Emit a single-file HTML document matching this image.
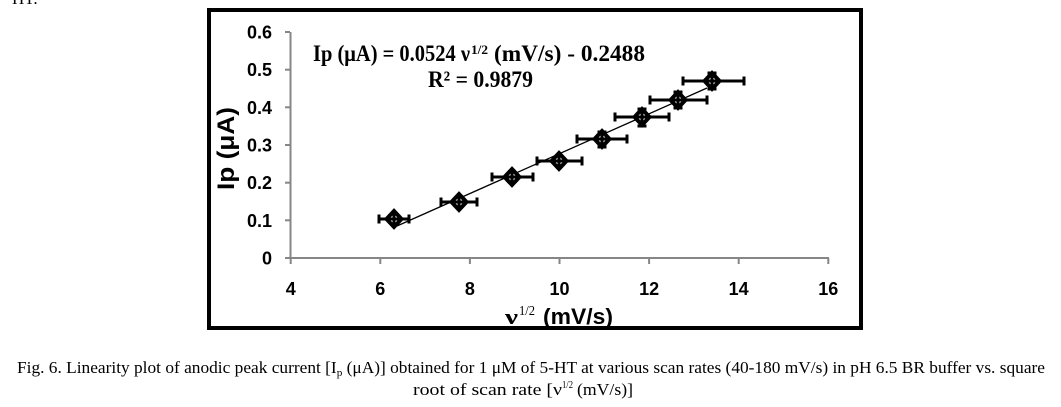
<!DOCTYPE html>
<html>
<head>
<meta charset="utf-8">
<style>
html,body{margin:0;padding:0;background:#fff;}
svg{display:block;}
</style>
</head>
<body>
<svg width="1061" height="407" viewBox="0 0 1061 407" xmlns="http://www.w3.org/2000/svg">
  <rect x="0" y="0" width="1061" height="407" fill="#fff"/>
  <text x="12" y="4" font-family="Liberation Serif, serif" font-size="17" fill="#000">HT.</text>

  <rect x="209" y="10" width="652" height="318" fill="none" stroke="#000" stroke-width="4"/>

  <g stroke="#868686" stroke-width="2" fill="none">
    <line x1="290.5" y1="32" x2="290.5" y2="258.5"/>
    <line x1="290" y1="258" x2="829" y2="258"/>
    <line x1="285" y1="32" x2="290" y2="32"/>
    <line x1="285" y1="69.7" x2="290" y2="69.7"/>
    <line x1="285" y1="107.3" x2="290" y2="107.3"/>
    <line x1="285" y1="145" x2="290" y2="145"/>
    <line x1="285" y1="182.7" x2="290" y2="182.7"/>
    <line x1="285" y1="220.3" x2="290" y2="220.3"/>
    <line x1="285" y1="258" x2="290" y2="258"/>
    <line x1="290.7" y1="258" x2="290.7" y2="264"/>
    <line x1="380.3" y1="258" x2="380.3" y2="264"/>
    <line x1="469.9" y1="258" x2="469.9" y2="264"/>
    <line x1="559.5" y1="258" x2="559.5" y2="264"/>
    <line x1="649.1" y1="258" x2="649.1" y2="264"/>
    <line x1="738.7" y1="258" x2="738.7" y2="264"/>
    <line x1="828.3" y1="258" x2="828.3" y2="264"/>
  </g>

  <g font-family="Liberation Sans, Arial, sans-serif" font-weight="bold" font-size="18" fill="#000" text-anchor="end">
    <text x="272" y="38.5">0.6</text>
    <text x="272" y="76.2">0.5</text>
    <text x="272" y="113.8">0.4</text>
    <text x="272" y="151.5">0.3</text>
    <text x="272" y="189.2">0.2</text>
    <text x="272" y="226.8">0.1</text>
    <text x="272" y="264.5">0</text>
  </g>
  <g font-family="Liberation Sans, Arial, sans-serif" font-weight="bold" font-size="18" fill="#000" text-anchor="middle">
    <text x="290.7" y="295">4</text>
    <text x="380.3" y="295">6</text>
    <text x="469.9" y="295">8</text>
    <text x="559.5" y="295">10</text>
    <text x="649.1" y="295">12</text>
    <text x="738.7" y="295">14</text>
    <text x="828.3" y="295">16</text>
  </g>

  <text transform="translate(234,190) rotate(-90)" x="0" y="0" font-family="Liberation Sans, Arial, sans-serif" font-weight="bold" font-size="24" textLength="83" lengthAdjust="spacingAndGlyphs" fill="#000">Ip (μA)</text>

  <text x="505" y="324" font-family="Liberation Serif, serif" font-weight="bold" font-size="22" textLength="13" lengthAdjust="spacingAndGlyphs" fill="#000">ν</text>
  <text x="519" y="315" font-family="Liberation Serif, serif" font-size="14" textLength="16" lengthAdjust="spacingAndGlyphs" fill="#000">1/2</text>
  <text x="543" y="324" font-family="Liberation Sans, Arial, sans-serif" font-weight="bold" font-size="22" textLength="70" lengthAdjust="spacingAndGlyphs" fill="#000">(mV/s)</text>

  <g font-family="Liberation Serif, serif" font-weight="bold" fill="#000">
    <text x="313" y="61" font-size="23" textLength="157" lengthAdjust="spacingAndGlyphs">Ip (μA) = 0.0524 ν</text>
    <text x="471" y="54" font-size="13" textLength="17" lengthAdjust="spacingAndGlyphs">1/2</text>
    <text x="494" y="61" font-size="23" textLength="151" lengthAdjust="spacingAndGlyphs">(mV/s) - 0.2488</text>
    <text x="428" y="87" font-size="23" textLength="105" lengthAdjust="spacingAndGlyphs">R² = 0.9879</text>
  </g>

  <line x1="397" y1="226" x2="707" y2="88" stroke="#000" stroke-width="1.3"/>

  <g stroke="#000" stroke-width="3" fill="none">
    <line x1="379" y1="219" x2="409" y2="219"/><line x1="379" y1="214.5" x2="379" y2="223.5"/><line x1="409" y1="214.5" x2="409" y2="223.5"/>
    <line x1="441" y1="202" x2="477" y2="202"/><line x1="441" y1="197.5" x2="441" y2="206.5"/><line x1="477" y1="197.5" x2="477" y2="206.5"/>
    <line x1="492" y1="177" x2="533" y2="177"/><line x1="492" y1="172.5" x2="492" y2="181.5"/><line x1="533" y1="172.5" x2="533" y2="181.5"/>
    <line x1="537" y1="161" x2="582" y2="161"/><line x1="537" y1="156.5" x2="537" y2="165.5"/><line x1="582" y1="156.5" x2="582" y2="165.5"/>
    <line x1="559" y1="155" x2="559" y2="167"/>
    <line x1="577" y1="139" x2="627" y2="139"/><line x1="577" y1="134.5" x2="577" y2="143.5"/><line x1="627" y1="134.5" x2="627" y2="143.5"/>
    <line x1="602" y1="132" x2="602" y2="147"/><line x1="597.5" y1="132" x2="606.5" y2="132"/><line x1="597.5" y1="147" x2="606.5" y2="147"/>
    <line x1="615" y1="117" x2="669" y2="117"/><line x1="615" y1="112.5" x2="615" y2="121.5"/><line x1="669" y1="112.5" x2="669" y2="121.5"/>
    <line x1="642" y1="109" x2="642" y2="126"/><line x1="637.5" y1="109" x2="646.5" y2="109"/><line x1="637.5" y1="126" x2="646.5" y2="126"/>
    <line x1="650" y1="100" x2="707" y2="100"/><line x1="650" y1="95.5" x2="650" y2="104.5"/><line x1="707" y1="95.5" x2="707" y2="104.5"/>
    <line x1="678" y1="92" x2="678" y2="108"/><line x1="673.5" y1="92" x2="682.5" y2="92"/><line x1="673.5" y1="108" x2="682.5" y2="108"/>
    <line x1="683" y1="81" x2="744" y2="81"/><line x1="683" y1="76.5" x2="683" y2="85.5"/><line x1="744" y1="76.5" x2="744" y2="85.5"/>
    <line x1="712" y1="73" x2="712" y2="89"/><line x1="707.5" y1="73" x2="716.5" y2="73"/><line x1="707.5" y1="89" x2="716.5" y2="89"/>
  </g>

  <g stroke="#000" stroke-width="4" fill="#fff">
    <path d="M394 211 L401.5 219 L394 227 L386.5 219 Z"/>
    <path d="M459 194 L466.5 202 L459 210 L451.5 202 Z"/>
    <path d="M512 169 L519.5 177 L512 185 L504.5 177 Z"/>
    <path d="M559 153 L566.5 161 L559 169 L551.5 161 Z"/>
    <path d="M602 131 L609.5 139 L602 147 L594.5 139 Z"/>
    <path d="M642 109 L649.5 117 L642 125 L634.5 117 Z"/>
    <path d="M678 92 L685.5 100 L678 108 L670.5 100 Z"/>
    <path d="M712 73 L719.5 81 L712 89 L704.5 81 Z"/>
  </g>
  <g stroke="#000" stroke-width="3" fill="none">
    <line x1="387" y1="219" x2="401" y2="219"/><line x1="394" y1="212" x2="394" y2="226"/>
    <line x1="452" y1="202" x2="466" y2="202"/><line x1="459" y1="195" x2="459" y2="209"/>
    <line x1="505" y1="177" x2="519" y2="177"/><line x1="512" y1="170" x2="512" y2="184"/>
    <line x1="552" y1="161" x2="566" y2="161"/><line x1="559" y1="154" x2="559" y2="168"/>
    <line x1="595" y1="139" x2="609" y2="139"/><line x1="602" y1="132" x2="602" y2="146"/>
    <line x1="635" y1="117" x2="649" y2="117"/><line x1="642" y1="110" x2="642" y2="124"/>
    <line x1="671" y1="100" x2="685" y2="100"/><line x1="678" y1="93" x2="678" y2="107"/>
    <line x1="705" y1="81" x2="719" y2="81"/><line x1="712" y1="74" x2="712" y2="88"/>
  </g>

  <g font-family="Liberation Serif, serif" font-size="17" fill="#000">
    <text x="17" y="373" textLength="1028" lengthAdjust="spacingAndGlyphs">Fig. 6. Linearity plot of anodic peak current [I<tspan font-size="11" dy="3">p</tspan><tspan dy="-3"> (μA)] obtained for 1 μM of 5-HT at various scan rates (40-180 mV/s) in pH 6.5 BR buffer vs. square</tspan></text>
    <text x="413" y="395" textLength="149" lengthAdjust="spacingAndGlyphs">root of scan rate [ν</text>
    <text x="562" y="388" font-size="11" textLength="11" lengthAdjust="spacingAndGlyphs">1/2</text>
    <text x="577" y="395" textLength="56" lengthAdjust="spacingAndGlyphs">(mV/s)]</text>
  </g>
</svg>
</body>
</html>
